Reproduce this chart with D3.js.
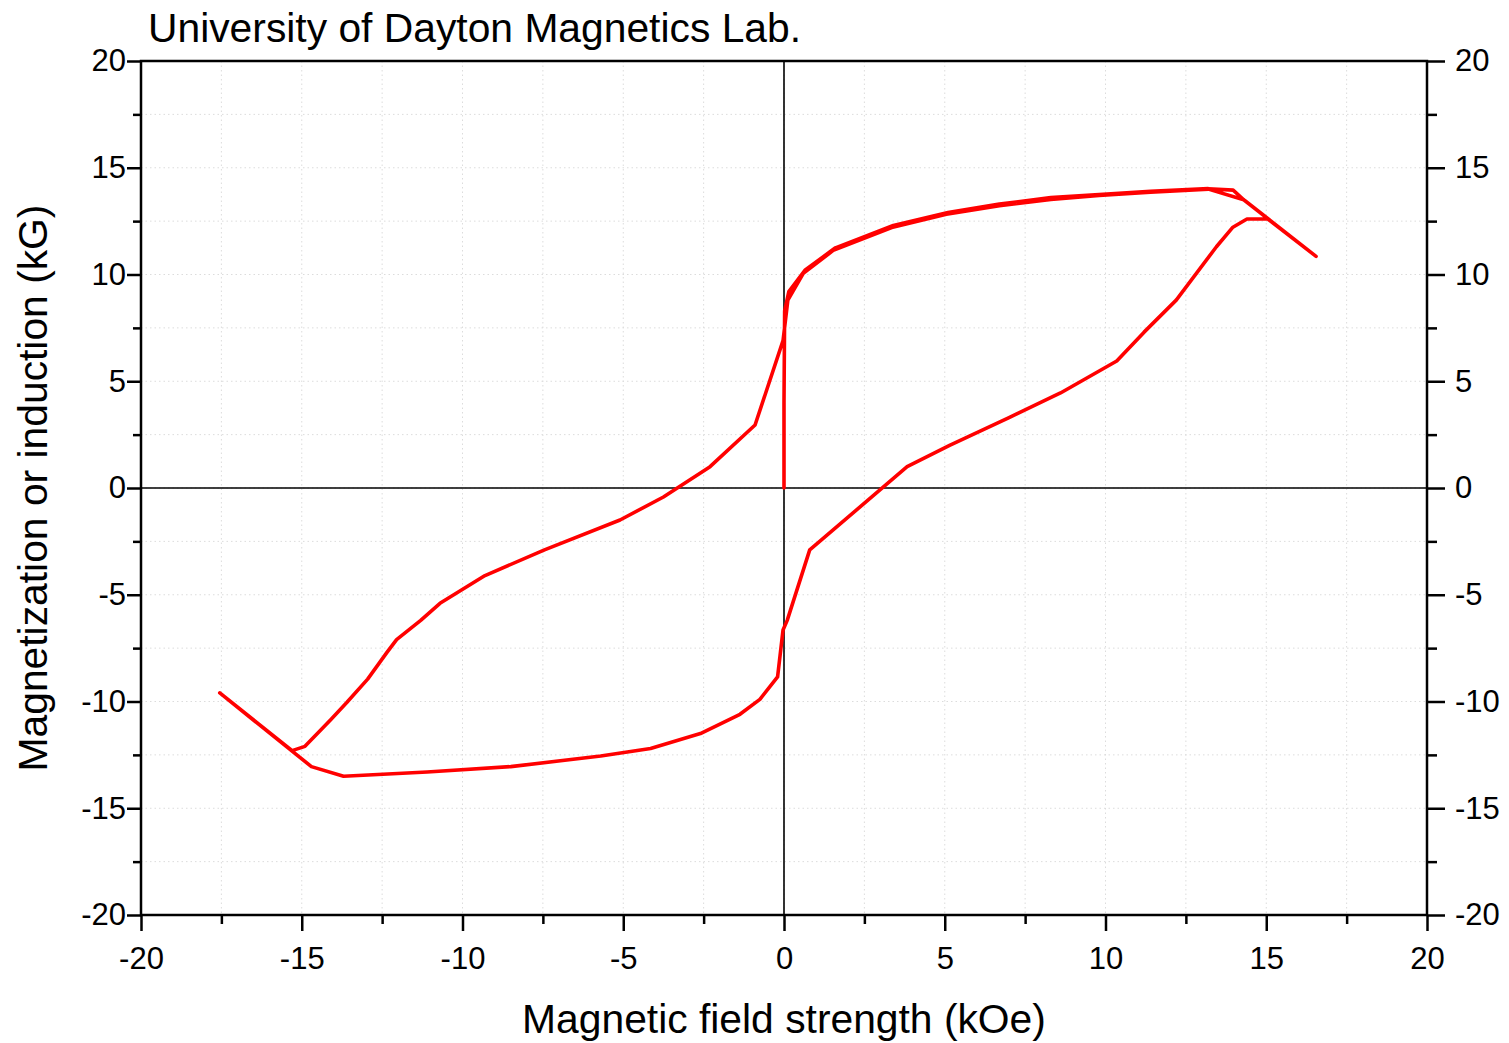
<!DOCTYPE html>
<html>
<head>
<meta charset="utf-8">
<script src="https://cdn.jsdelivr.net/npm/d3@7"></script>
<style>
	body { margin: 0; background: #fff; }
	svg text { font-family: "Liberation Sans", Arial, sans-serif; fill: #000; }
</style>
</head>
<body>
<svg id="chart" width="1509" height="1043"></svg>
<script>
// field (kOe) and induction (kG), in the order the loop was traced
const fieldKOe = [
	0, 0.0, 0.02, 0.15, 0.65, 1.6, 3.4, 5.1, 6.7, 8.3, 9.8, 11.4, 13.2, 13.97, 14.3, 16.55,
	15.05, 14.4, 13.95, 13.45, 12.2, 11.2, 10.35, 8.6, 7.0, 5.15, 3.83, 0.8, 0.1, -0.03, -0.2, -0.75,
	-1.37, -2.6, -4.15, -5.7, -8.5, -11.1, -13.7, -14.7, -17.55,
	-15.3, -14.9, -14.1, -13.6, -12.95, -12.35, -12.05, -11.3, -10.7, -9.3, -7.45, -5.1, -3.75, -2.3, -0.9,
	-0.03, 0.12, 0.6, 1.55, 3.35, 5.05, 6.7, 8.3, 9.8, 11.4, 13.2, 14.3
];
const inductionKG = [
	0, 4.0, 8.3, 9.2, 10.2, 11.25, 12.3, 12.9, 13.3, 13.6, 13.75, 13.9, 14.02, 13.95, 13.5, 10.85,
	12.6, 12.6, 12.2, 11.3, 8.8, 7.3, 5.95, 4.45, 3.3, 2.0, 1.0, -2.9, -6.2, -6.65, -8.85, -9.9,
	-10.6, -11.5, -12.2, -12.55, -13.05, -13.3, -13.5, -13.05, -9.6,
	-12.3, -12.1, -10.85, -10.05, -8.95, -7.7, -7.1, -6.2, -5.4, -4.1, -2.9, -1.5, -0.42, 1.0, 2.95,
	6.9, 8.8, 10.05, 11.15, 12.2, 12.82, 13.22, 13.52, 13.7, 13.86, 14.0, 13.5
];

const majorTicks = [-20, -15, -10, -5, 0, 5, 10, 15, 20];
const minorTicks = [-17.5, -12.5, -7.5, -2.5, 2.5, 7.5, 12.5, 17.5];
const gridTicks = d3.range(-17.5, 20, 2.5);

const title = 'University of Dayton Magnetics Lab.';
const xTitle = 'Magnetic field strength (kOe)';
const yTitle = 'Magnetization or induction (kG)';

const plotLeft = 141, plotRight = 1427, plotTop = 61, plotBottom = 915;

let x = d3.scaleLinear().domain([-20, 20]).range([plotLeft, plotRight]);
let y = d3.scaleLinear().domain([-20, 20]).range([plotBottom, plotTop]);

// plain hyphen for negatives, like the original
let fmt = d => String(d);

let svg = d3.select('#chart');

// dotted grid
let grid = svg.append('g').attr('stroke', '#dcdcdc').attr('stroke-width', 1).attr('stroke-dasharray', '1.5,3');
grid.selectAll('.gx').data(gridTicks).enter().append('line')
	.attr('x1', d => x(d)).attr('x2', d => x(d)).attr('y1', plotTop).attr('y2', plotBottom);
grid.selectAll('.gy').data(gridTicks).enter().append('line')
	.attr('y1', d => y(d)).attr('y2', d => y(d)).attr('x1', plotLeft).attr('x2', plotRight);

// zero lines
svg.append('line').attr('x1', x(0)).attr('x2', x(0)).attr('y1', plotTop).attr('y2', plotBottom)
	.attr('stroke', '#000').attr('stroke-width', 1.6);
svg.append('line').attr('x1', plotLeft).attr('x2', plotRight).attr('y1', y(0)).attr('y2', y(0))
	.attr('stroke', '#000').attr('stroke-width', 1.6);

// the loop
let pts = fieldKOe.map((h, i) => [h, inductionKG[i]]);
svg.append('path')
	.datum(pts)
	.attr('fill', 'none')
	.attr('stroke', '#ff0000')
	.attr('stroke-width', 3.6)
	.attr('stroke-linejoin', 'round')
	.attr('stroke-linecap', 'round')
	.attr('d', d3.line().x(d => x(d[0])).y(d => y(d[1])));

// axes
function styleAxis(g) {
	g.select('.domain').remove();
	g.selectAll('line').attr('stroke', '#000').attr('stroke-width', 2.5);
	g.selectAll('text').style('font-size', '31px');
}

svg.append('g').attr('transform', `translate(${plotLeft},0)`)
	.call(d3.axisLeft(y).tickValues(majorTicks).tickSize(14).tickPadding(1).tickFormat(fmt))
	.call(styleAxis);
svg.append('g').attr('transform', `translate(${plotLeft},0)`)
	.call(d3.axisLeft(y).tickValues(minorTicks).tickSize(8).tickFormat(''))
	.call(styleAxis);

svg.append('g').attr('transform', `translate(${plotRight},0)`)
	.call(d3.axisRight(y).tickValues(majorTicks).tickSize(18).tickPadding(10).tickFormat(fmt))
	.call(styleAxis);
svg.append('g').attr('transform', `translate(${plotRight},0)`)
	.call(d3.axisRight(y).tickValues(minorTicks).tickSize(10).tickFormat(''))
	.call(styleAxis);

svg.append('g').attr('transform', `translate(0,${plotBottom})`)
	.call(d3.axisBottom(x).tickValues(majorTicks).tickSize(16).tickPadding(16).tickFormat(fmt))
	.call(styleAxis);
svg.append('g').attr('transform', `translate(0,${plotBottom})`)
	.call(d3.axisBottom(x).tickValues(minorTicks).tickSize(9).tickFormat(''))
	.call(styleAxis);

// frame
svg.append('rect').attr('x', plotLeft).attr('y', plotTop)
	.attr('width', plotRight - plotLeft).attr('height', plotBottom - plotTop)
	.attr('fill', 'none').attr('stroke', '#000').attr('stroke-width', 2.5);

// texts
svg.append('text').attr('x', 148).attr('y', 42).style('font-size', '40.8px').text(title);
svg.append('text').attr('x', x(0)).attr('y', 1033).attr('text-anchor', 'middle')
	.style('font-size', '40.8px').text(xTitle);
svg.append('text').attr('transform', `translate(47,${y(0)}) rotate(-90)`).attr('text-anchor', 'middle')
	.style('font-size', '40.8px').text(yTitle);
</script>
</body>
</html>
